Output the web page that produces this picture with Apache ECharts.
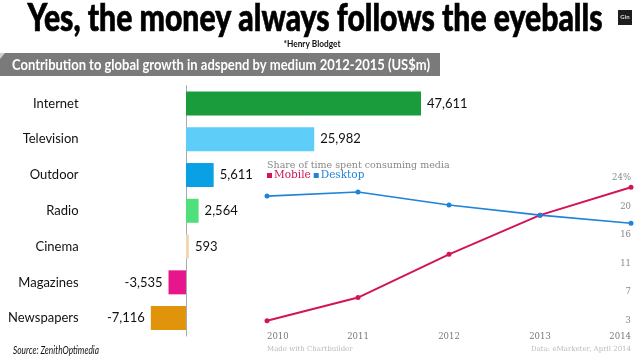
<!DOCTYPE html>
<html>
<head>
<meta charset="utf-8">
<script src="https://cdn.jsdelivr.net/npm/echarts@6/dist/echarts.min.js"></script>
<style>
html,body{margin:0;padding:0;background:#fff;}
#chart{width:638px;height:359px;}
</style>
</head>
<body>
<div id="chart"></div>
<script>
// ---- data ----
const categories = ['Internet', 'Television', 'Outdoor', 'Radio', 'Cinema', 'Magazines', 'Newspapers'];
const growthValues = [47611, 25982, 5611, 2564, 593, -3535, -7116];
const barColors = ['#1a9c3c', '#5ecdf8', '#0aa0e4', '#4fe07c', '#f4d4b2', '#e8168c', '#e0940b'];

const years = ['2010', '2011', '2012', '2013', '2014'];
const mobileShare = [3.0, 6.4, 12.75, 18.5, 22.6];
const desktopShare = [21.3, 21.9, 20.0, 18.5, 17.3];
const shareTickValues = [3, 7.2, 11.4, 15.6, 19.8, 24];
const shareTickLabels = ['3', '7', '11', '16', '20', '24%'];

// ---- helpers ----
const measureCtx = document.createElement('canvas').getContext('2d');
function fitScale(text, font, targetWidth) {
  measureCtx.font = font;
  return targetWidth / measureCtx.measureText(text).width;
}

// ---- chart ----
const chart = echarts.init(document.getElementById('chart'), null, {renderer: 'canvas'});
const SANS = 'Lato, "Open Sans", sans-serif';
const SERIF = '"DejaVu Serif", serif';

const TITLE = 'Yes, the money always follows the eyeballs';
const TITLE_FONT = '900 34px Lato, "DejaVu Sans", sans-serif';
const BANNER = 'Contribution to global growth in adspend by medium 2012-2015 (US$m)';
const BANNER_FONT = 'bold 15px Lato, sans-serif';
const SOURCE = 'Source: ZenithOptimedia';
const SOURCE_FONT = 'italic 11px Lato, sans-serif';
const HB = '*Henry Blodget';
const HB_FONT = 'bold 9px Lato, sans-serif';

const option = {
  animation: false,
  backgroundColor: '#fff',
  grid: [
    {left: 136.6, width: 296.2, top: 85.6, bottom: 23, containLabel: false, outerBoundsMode: 'none'},
    {left: 267, right: 7, top: 177.7, bottom: 38.3, containLabel: false, outerBoundsMode: 'none'}
  ],
  xAxis: [
    {type: 'value', gridIndex: 0, min: -10000, max: 50000, show: false, splitLine: {show: false}},
    {type: 'category', gridIndex: 1, data: years, boundaryGap: false,
     axisLine: {show: false}, axisTick: {show: false}, splitLine: {show: false},
     axisLabel: {margin: 12, color: '#777', fontFamily: SERIF, fontSize: 8.5,
                 alignMinLabel: 'left', alignMaxLabel: 'right'}}
  ],
  yAxis: [
    {type: 'category', gridIndex: 0, data: categories, inverse: true,
     axisLine: {show: true, onZero: true, lineStyle: {color: '#aaa', width: 1}},
     axisTick: {show: false}, splitLine: {show: false},
     axisLabel: {margin: 58, color: '#111', fontFamily: SANS, fontSize: 13}},
    {type: 'value', gridIndex: 1, position: 'right', min: 3, max: 24,
     axisLine: {show: false}, axisTick: {show: false}, splitLine: {show: false},
     axisLabel: {inside: true, margin: 0, color: '#888', fontFamily: SERIF, fontSize: 8.5,
                 customValues: shareTickValues,
                 formatter: function (v) {
                   let best = 0;
                   shareTickValues.forEach(function (t, i) { if (Math.abs(t - v) < Math.abs(shareTickValues[best] - v)) best = i; });
                   return shareTickLabels[best];
                 }}}
  ],
  legend: {
    left: 267, top: 170, padding: 0, icon: 'rect', itemWidth: 5, itemHeight: 5, itemGap: 3,
    textStyle: {fontFamily: SERIF, fontSize: 10.5, padding: [0, 0, 0, -3]},
    data: [
      {name: 'Mobile', textStyle: {color: '#d4145a'}},
      {name: 'Desktop', textStyle: {color: '#1f83d8'}}
    ]
  },
  series: [
    {
      type: 'bar', xAxisIndex: 0, yAxisIndex: 0, barWidth: 24,
      data: growthValues.map(function (v, i) {
        return {value: v, itemStyle: {color: barColors[i]},
                label: {position: v < 0 ? 'left' : 'right'}};
      }),
      label: {show: true, distance: 6, color: '#111', fontFamily: SANS, fontSize: 13,
              formatter: function (p) { return p.value.toLocaleString('en-US'); }}
    },
    {
      name: 'Mobile', type: 'line', xAxisIndex: 1, yAxisIndex: 1, data: mobileShare,
      color: '#d4145a', symbol: 'circle', symbolSize: 5,
      lineStyle: {width: 2, color: '#d4145a'}, itemStyle: {color: '#d4145a'}
    },
    {
      name: 'Desktop', type: 'line', xAxisIndex: 1, yAxisIndex: 1, data: desktopShare,
      color: '#1f83d8', symbol: 'circle', symbolSize: 5,
      lineStyle: {width: 1.6, color: '#1f83d8'}, itemStyle: {color: '#1f83d8'}
    }
  ],
  graphic: [
    {type: 'text', x: 315, y: 19, scaleX: fitScale(TITLE, TITLE_FONT, 575), scaleY: 1.1,
     style: {text: TITLE, font: TITLE_FONT, fill: '#000', stroke: '#000', lineWidth: 0.6,
      align: 'center', verticalAlign: 'middle'}},
    {type: 'rect', shape: {x: 618, y: 10, width: 14, height: 15}, style: {fill: '#1e1e1e'}},
    {type: 'text', x: 625, y: 17.5, style: {text: 'Gin', font: 'bold 6px ' + SANS, fill: '#ddd',
      align: 'center', verticalAlign: 'middle'}},
    {type: 'text', x: 312, y: 44, scaleX: fitScale(HB, HB_FONT, 57),
     style: {text: HB, font: HB_FONT, fill: '#111', align: 'center', verticalAlign: 'middle'}},
    {type: 'rect', shape: {x: 0, y: 53, width: 440, height: 23}, style: {fill: '#7a7a7a'}},
    {type: 'polygon', shape: {points: [[0, 53], [5, 53], [0, 59]]}, style: {fill: '#cfcfcf'}},
    {type: 'text', x: 12, y: 65, scaleX: fitScale(BANNER, BANNER_FONT, 418),
     style: {text: BANNER, font: BANNER_FONT, fill: '#fff', align: 'left', verticalAlign: 'middle'}},
    {type: 'text', x: 13, y: 350, scaleX: fitScale(SOURCE, SOURCE_FONT, 86),
     style: {text: SOURCE, font: SOURCE_FONT, fill: '#111', align: 'left', verticalAlign: 'middle'}},
    {type: 'text', x: 267, y: 166, style: {text: 'Share of time spent consuming media', font: '9.5px ' + SERIF,
      fill: '#888', align: 'left', verticalAlign: 'middle'}},
    {type: 'text', x: 267, y: 349, style: {text: 'Made with Chartbuilder', font: '7px ' + SERIF,
      fill: '#bbb', align: 'left', verticalAlign: 'middle'}},
    {type: 'text', x: 631, y: 349, style: {text: 'Data: eMarketer, April 2014', font: '7px ' + SERIF,
      fill: '#bbb', align: 'right', verticalAlign: 'middle'}}
  ]
};
chart.setOption(option);
</script>
</body>
</html>
